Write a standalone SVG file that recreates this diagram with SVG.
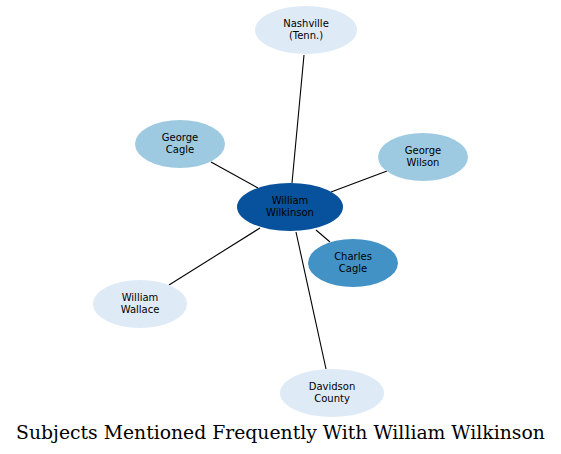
<svg xmlns="http://www.w3.org/2000/svg" width="561" height="454" viewBox="0 0 561 454">
<style>
.lbl{font-family:"DejaVu Sans",sans-serif;font-size:10px;fill:#000;text-anchor:middle}
.e{stroke:#000;stroke-width:1.1;fill:none}
.title{font-family:"DejaVu Serif",serif;font-size:18.8px;fill:#000;text-anchor:middle}
</style>
<rect width="561" height="454" fill="#fff"/>
<g id="connectors">
<line class="e" x1="292" y1="183" x2="304" y2="55"/>
<line class="e" x1="258" y1="188" x2="211" y2="162"/>
<line class="e" x1="331" y1="192" x2="387" y2="171"/>
<line class="e" x1="316" y1="230" x2="330" y2="242"/>
<line class="e" x1="260" y1="228" x2="169" y2="285"/>
<line class="e" x1="296" y1="232" x2="326" y2="369"/>
</g>
<g id="nashville"><ellipse cx="306" cy="30" rx="51" ry="24" fill="#deebf7"/><text class="lbl" x="306" y="27">Nashville</text><text class="lbl" x="306" y="39">(Tenn.)</text></g>
<g id="george-cagle"><ellipse cx="180" cy="144" rx="45" ry="24" fill="#9ecae1"/><text class="lbl" x="180" y="141">George</text><text class="lbl" x="180" y="153">Cagle</text></g>
<g id="george-wilson"><ellipse cx="423" cy="157" rx="45" ry="24" fill="#9ecae1"/><text class="lbl" x="423" y="154">George</text><text class="lbl" x="423" y="166">Wilson</text></g>
<g id="william-wilkinson"><ellipse cx="290" cy="207" rx="53" ry="24" fill="#08519c"/><text class="lbl" x="290" y="204">William</text><text class="lbl" x="290" y="216">Wilkinson</text></g>
<g id="charles-cagle"><ellipse cx="353" cy="263" rx="45" ry="24" fill="#4292c6"/><text class="lbl" x="353" y="260">Charles</text><text class="lbl" x="353" y="272">Cagle</text></g>
<g id="william-wallace"><ellipse cx="140" cy="304" rx="47" ry="24" fill="#deebf7"/><text class="lbl" x="140" y="301">William</text><text class="lbl" x="140" y="313">Wallace</text></g>
<g id="davidson-county"><ellipse cx="332" cy="393" rx="52" ry="24" fill="#deebf7"/><text class="lbl" x="332" y="390">Davidson</text><text class="lbl" x="332" y="402">County</text></g>
<text class="title" x="280.5" y="439">Subjects Mentioned Frequently With William Wilkinson</text>
</svg>
